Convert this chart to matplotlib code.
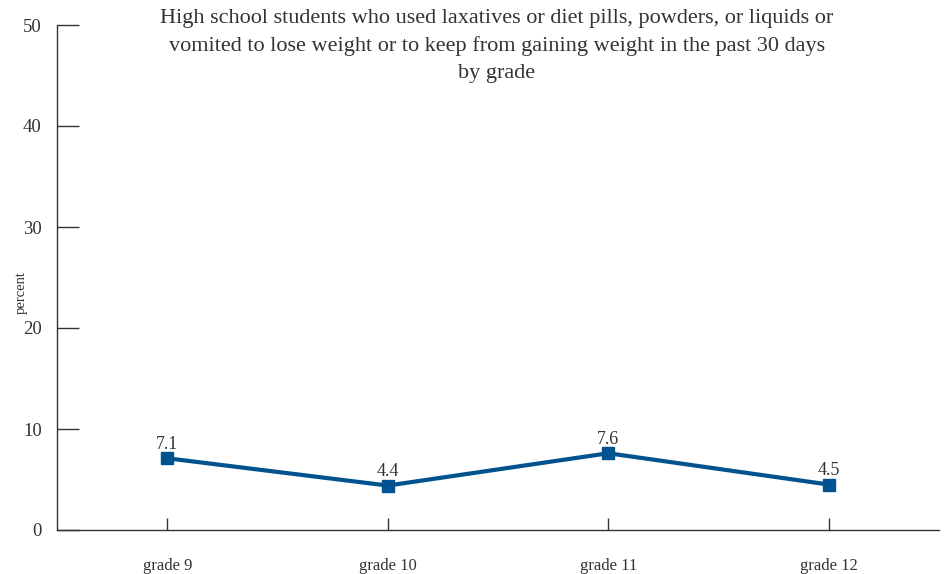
import numpy as np
import matplotlib.pyplot as plt

plt.rcParams['font.family'] = ['Liberation Serif', 'DejaVu Serif']

# datos
grades = ["grade 9", "grade 10", "grade 11", "grade 12"]
percent = [7.1, 4.4, 7.6, 4.5]
yticks = [0, 10, 20, 30, 40, 50]

title = ("High school students who used laxatives or diet pills, powders, or liquids or\n"
         "vomited to lose weight or to keep from gaining weight in the past 30 days\n"
         "by grade")

color = "#00538f"
txt = "#333333"

fig = plt.figure(figsize=(9.48, 5.74), dpi=100)
ax = fig.add_axes([57 / 948, 1 - 530 / 574, 882 / 948, 505 / 574])

x = np.arange(len(grades))
ax.plot(x, percent, color=color, linewidth=3, marker="s", markersize=8,
        solid_joinstyle="miter")

for xi, v in zip(x, percent):
    ax.annotate("{}".format(v), (xi, v), xytext=(0, 4), textcoords="offset points",
                ha="center", va="bottom", fontsize=13, color=txt)

ax.set_xlim(-0.5, len(grades) - 0.5)
ax.set_ylim(0, 50)
ax.set_xticks(x)
ax.set_xticklabels(grades)
ax.set_yticks(yticks)

ax.spines["top"].set_visible(False)
ax.spines["right"].set_visible(False)
for s in ("left", "bottom"):
    ax.spines[s].set_color(txt)
    ax.spines[s].set_linewidth(1)

ax.tick_params(axis="y", direction="in", length=16, width=1, color=txt,
               labelsize=13.5, labelcolor=txt, pad=11)
ax.tick_params(axis="x", direction="in", length=9, width=1, color=txt,
               labelsize=12, labelcolor=txt, pad=20)

ax.set_ylabel("percent", fontsize=10.5, color=txt)
ax.yaxis.set_label_coords(-0.033, 0.47)

fig.text(497 / 948, 1 - 9 / 574, title, ha="center", va="top", fontsize=16,
         color=txt, linespacing=1.55)

fig.savefig("out.png", dpi=100)
